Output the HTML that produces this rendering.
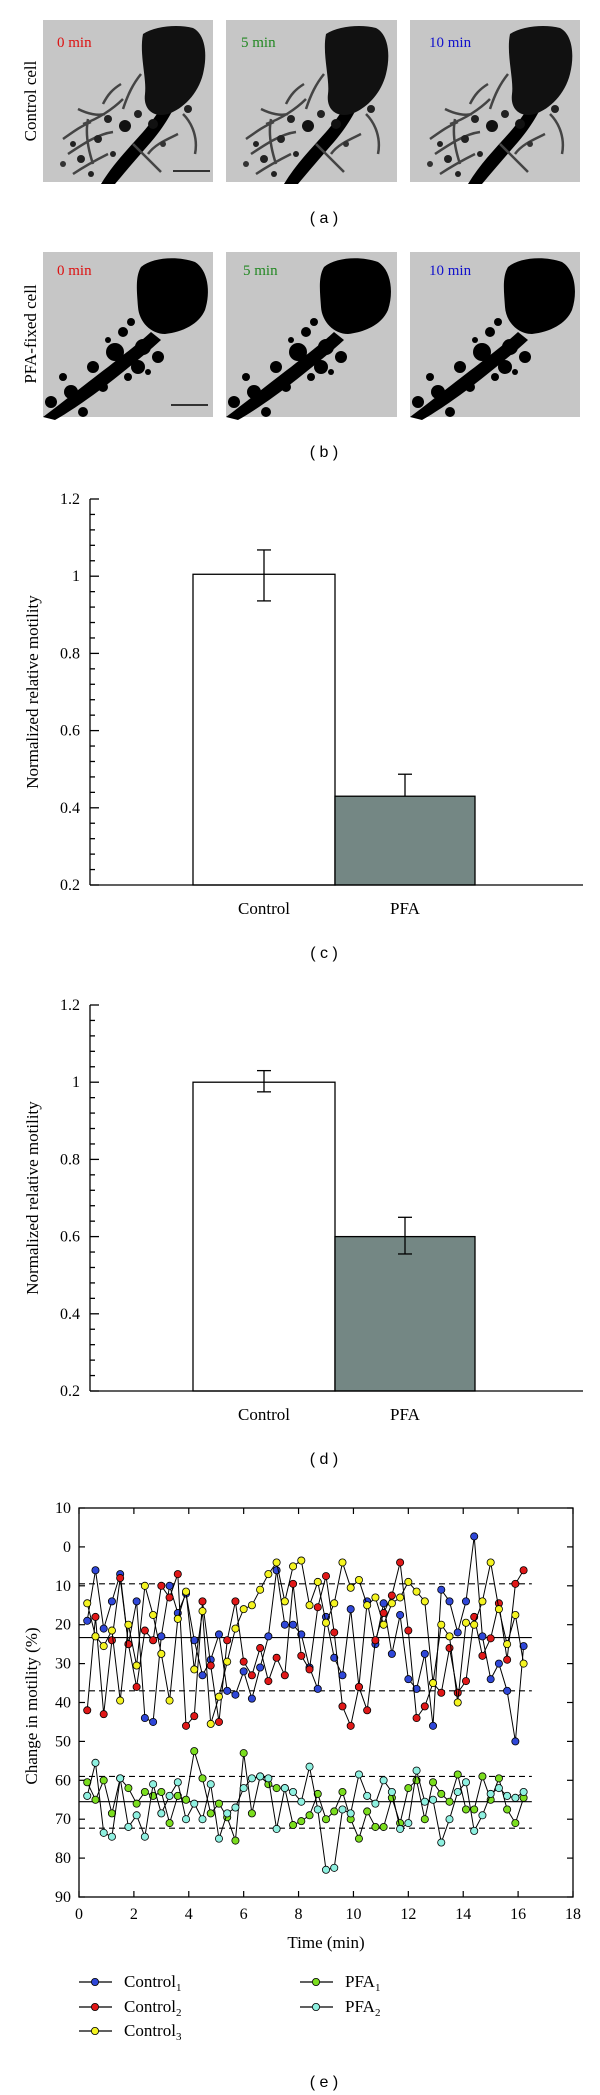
<!DOCTYPE html>
<html><head><meta charset="utf-8">
<style>
html,body{margin:0;padding:0;background:#fff;}
svg{display:block;}
.serif{font-family:"Liberation Serif",serif;}
.sans{font-family:"Liberation Sans",sans-serif;}
</style></head>
<body>
<svg id="fig" width="600" height="2095" viewBox="0 0 600 2095" xmlns="http://www.w3.org/2000/svg">
<defs>
<g id="ctrlcell">
  <path d="M58,170 C70,150 85,135 100,118 C112,104 120,92 126,78 L136,82 C130,98 120,114 108,128 C94,144 82,158 72,170 Z" fill="#000"/>
  <path d="M100,20 C112,12 135,10 150,14 C162,20 165,40 160,60 C155,80 140,95 125,100 C110,104 100,95 102,80 C104,65 96,40 100,20 Z" fill="#111"/>
  <path d="M40,110 C55,105 70,95 80,85 M25,140 C40,130 55,120 70,118 M50,150 C45,135 42,120 45,105 M90,130 C100,140 110,150 118,158 M80,95 C85,80 90,70 98,60 M140,100 C150,110 155,125 152,140 M20,125 C30,118 38,112 48,108 M30,160 C45,150 55,145 65,140 M60,90 C65,80 70,75 78,70 M105,140 C112,130 125,125 135,120 M35,95 C45,100 55,102 62,100" stroke="#444" stroke-width="2.5" fill="none"/>
  <circle cx="82" cy="112" r="6" fill="#111"/><circle cx="55" cy="125" r="4" fill="#222"/><circle cx="38" cy="145" r="4" fill="#222"/><circle cx="110" cy="110" r="5" fill="#111"/><circle cx="145" cy="95" r="4" fill="#222"/>
  <circle cx="30" cy="130" r="3" fill="#222"/><circle cx="65" cy="105" r="4" fill="#222"/><circle cx="48" cy="160" r="3" fill="#222"/><circle cx="95" cy="100" r="4" fill="#222"/><circle cx="120" cy="130" r="3" fill="#333"/><circle cx="70" cy="140" r="3" fill="#222"/><circle cx="20" cy="150" r="3" fill="#333"/>
</g>
<g id="pfacell">
  <path d="M0,165 C20,150 45,130 65,115 C80,103 95,92 108,80 L118,88 C105,100 90,112 75,124 C55,140 30,158 12,168 Z" fill="#000"/>
  <path d="M98,15 C110,5 135,4 152,10 C165,18 168,40 162,58 C156,72 140,80 122,82 C108,82 96,70 95,55 C94,40 92,25 98,15 Z" fill="#000"/>
  <circle cx="72" cy="100" r="9" fill="#000"/><circle cx="100" cy="95" r="8" fill="#000"/><circle cx="95" cy="115" r="7" fill="#000"/><circle cx="50" cy="115" r="6" fill="#000"/><circle cx="28" cy="140" r="7" fill="#000"/><circle cx="8" cy="150" r="6" fill="#000"/><circle cx="115" cy="105" r="6" fill="#000"/><circle cx="80" cy="80" r="5" fill="#000"/><circle cx="60" cy="135" r="5" fill="#000"/><circle cx="40" cy="160" r="5" fill="#000"/><circle cx="20" cy="125" r="4" fill="#000"/><circle cx="88" cy="70" r="4" fill="#000"/>
  <circle cx="65" cy="88" r="3" fill="#000"/><circle cx="85" cy="125" r="4" fill="#000"/><circle cx="45" cy="138" r="3" fill="#000"/><circle cx="105" cy="120" r="3" fill="#000"/>
</g>
</defs>

<g>
  <text class="serif" x="36" y="101" font-size="17" text-anchor="middle" transform="rotate(-90 36 101)">Control cell</text>
  <g><rect x="43" y="20" width="170" height="162" fill="#c6c6c6"/><use href="#ctrlcell" x="43" y="14"/><line x1="173" y1="171" x2="210" y2="171" stroke="#000" stroke-width="1.5"/><text class="serif" x="57" y="47" font-size="15" fill="#dd1111">0 min</text></g>
  <g><rect x="226" y="20" width="171" height="162" fill="#c6c6c6"/><use href="#ctrlcell" x="226" y="14"/><text class="serif" x="241" y="47" font-size="15" fill="#228822">5 min</text></g>
  <g><rect x="410" y="20" width="170" height="162" fill="#c6c6c6"/><use href="#ctrlcell" x="410" y="14"/><text class="serif" x="429" y="47" font-size="15" fill="#1111cc">10 min</text></g>
  <text class="sans" x="324" y="223" font-size="16" text-anchor="middle">( a )</text>
</g>

<g>
  <text class="serif" x="36" y="334" font-size="17" text-anchor="middle" transform="rotate(-90 36 334)">PFA-fixed cell</text>
  <g><rect x="43" y="252" width="170" height="165" fill="#c6c6c6"/><use href="#pfacell" x="43" y="252"/><line x1="171" y1="405" x2="208" y2="405" stroke="#000" stroke-width="1.5"/><text class="serif" x="57" y="275" font-size="15" fill="#dd1111">0 min</text></g>
  <g><rect x="226" y="252" width="171" height="165" fill="#c6c6c6"/><use href="#pfacell" x="226" y="252"/><text class="serif" x="243" y="275" font-size="15" fill="#228822">5 min</text></g>
  <g><rect x="410" y="252" width="170" height="165" fill="#c6c6c6"/><use href="#pfacell" x="410" y="252"/><text class="serif" x="429" y="275" font-size="15" fill="#1111cc">10 min</text></g>
  <text class="sans" x="324" y="457" font-size="16" text-anchor="middle">( b )</text>
</g>

<g id="chartC"></g>
<g id="chartD"></g>
<g id="chartE"></g>
</svg>

<script>
const barCategories = ["Control", "PFA"];
const barValuesC = [1.005, 0.43];
const barErrHiC = [1.068, 0.487];
const barErrLoC = [0.936, null];
const barValuesD = [1.0, 0.60];
const barErrHiD = [1.03, 0.65];
const barErrLoD = [0.975, 0.555];
const barTickLabels = ["0.2", "0.4", "0.6", "0.8", "1", "1.2"];
const barTickValues = [0.2, 0.4, 0.6, 0.8, 1.0, 1.2];

const times = [0.3,0.6,0.9,1.2,1.5,1.8,2.1,2.4,2.7,3.0,3.3,3.6,3.9,4.2,4.5,4.8,5.1,5.4,5.7,6.0,6.3,6.6,6.9,7.2,7.5,7.8,8.1,8.4,8.7,9.0,9.3,9.6,9.9,10.2,10.5,10.8,11.1,11.4,11.7,12.0,12.3,12.6,12.9,13.2,13.5,13.8,14.1,14.4,14.7,15.0,15.3,15.6,15.9,16.2];
const control1 = [19,6,21,14,7,25,14,44,45,23,10,17,12,24,33,29,22.5,37,38,32,39,31,23,6,20,20,22.5,31,36.5,18,28.5,33,16,36,14,25,14.5,27.5,17.5,34,36.5,27.5,46,11,14,22,14,-2.7,23,34,30,37,50,25.5];
const control2 = [42,18,43,24,8,25,36,21.5,24,10,13,7,46,43.5,14,30.5,45,24,14,29.5,33,26,34.5,28.5,33,9.5,28,31.5,15.5,7.5,22,41,46,36,42,24,17,12.5,4,21.5,44,41,35,37.5,26,37.5,34.5,18,28,23.5,14.5,29,9.5,6];
const control3 = [14.5,23,25.5,21.5,39.5,20,30.5,10,17.5,27.5,39.5,18.5,11.5,31.5,16.5,45.5,38.5,29.5,21,16,15,11,7,4,14,5,3.5,15,9,19.5,14.5,4,10.5,8.5,15,13,20,14.5,13,9,11.5,14,35,20,23,40,19.5,20,14,4,16,25,17.5,30];
const pfa1 = [60.5,65,60,68.5,59.5,62,66,63,64,63,71,64,65,52.5,59.5,68.5,66,69.5,75.5,53,68.5,59,61,62,62,71.5,70.5,69,63.5,70,68,63,70,75,68,72,72,64.5,71,62,60,70,60.5,63.5,65.5,58.5,67.5,67.5,59,65,59.5,67.5,71,64.5];
const pfa2 = [64,55.5,73.5,74.5,59.5,72,69,74.5,61,68.5,64,60.5,70,66,70,61,75,68.5,67,62,59.5,59,59.5,72.5,62,63,65.5,56.5,67.5,83,82.5,67.5,68.5,58.5,64,66,60,63,72.5,71,57.5,65.5,65,76,70,63,60.5,73,69,63.5,62,64,64.5,63];
const controlMean = 23.3, controlSdLo = 9.5, controlSdHi = 37;
const pfaMean = 65.5, pfaSdLo = 59, pfaSdHi = 72.3;
const yTickValuesE = [-10,0,10,20,30,40,50,60,70,80,90];
const yTickLabelsE = ["10","0","10","20","30","40","50","60","70","80","90"];
const xTickValuesE = [0,2,4,6,8,10,12,14,16,18];
const seriesNames = ["Control1","Control2","Control3","PFA1","PFA2"];

const NS = "http://www.w3.org/2000/svg";
function mk(tag, attrs, parent, text) {
  const el = document.createElementNS(NS, tag);
  for (const k in attrs) el.setAttribute(k, attrs[k]);
  if (text !== undefined) el.textContent = text;
  parent.appendChild(el);
  return el;
}

function barChart(gid, top, vals, hi, lo, caption) {
  const g = document.getElementById(gid);
  const ax = 90, bottom = top + 386, right = 583;
  const y = v => bottom - (v - 0.2) / 1.0 * 386;
  const bx = [193, 335], bw = [142, 140], fills = ["#fff", "#748784"];
  vals.forEach((v, i) => {
    const r = mk("rect", {x: bx[i], y: y(v), width: bw[i], height: bottom - y(v), fill: fills[i], stroke: "#000", "stroke-width": 1.3}, g);
    
    
    const cx = bx[i] + bw[i] / 2;
    const e = mk("g", {stroke: "#000", "stroke-width": 1.3}, g);
    
    
    const loV = lo[i] === null ? v : lo[i];
    mk("line", {x1: cx, x2: cx, y1: y(hi[i]), y2: y(loV)}, e);
    mk("line", {x1: cx - 7, x2: cx + 7, y1: y(hi[i]), y2: y(hi[i])}, e);
    if (lo[i] !== null) mk("line", {x1: cx - 7, x2: cx + 7, y1: y(lo[i]), y2: y(lo[i])}, e);
    const t = mk("text", {x: cx, y: bottom + 29, "font-size": 17, "text-anchor": "middle", class: "serif"}, g, barCategories[i]);
    
    
  });
  const axes = mk("g", {stroke: "#000", "stroke-width": 1.3}, g);
  
  
  mk("line", {x1: ax, x2: ax, y1: top, y2: bottom}, axes);
  mk("line", {x1: ax, x2: right, y1: bottom, y2: bottom}, axes);
  for (let k = 0; k <= 25; k++) {
    const v = 0.2 + k * 0.04;
    const major = k % 5 === 0;
    mk("line", {x1: ax, x2: ax + (major ? 9 : 5), y1: y(v), y2: y(v)}, axes);
  }
  barTickValues.forEach((v, i) => {
    const t = mk("text", {x: 80, y: y(v) + 5, "font-size": 16, "text-anchor": "end", class: "serif"}, g, barTickLabels[i]);
    
    
  });
  const yl = mk("text", {x: 38, y: (top + bottom) / 2, "font-size": 17, "text-anchor": "middle", class: "serif", transform: `rotate(-90 38 ${(top + bottom) / 2})`}, g, "Normalized relative motility");
  
  
  const c = mk("text", {x: 324, y: bottom + 73, "font-size": 16, "text-anchor": "middle", class: "sans"}, g, caption);
  
  
}
barChart("chartC", 499, barValuesC, barErrHiC, barErrLoC, "( c )");
barChart("chartD", 1005, barValuesD, barErrHiD, barErrLoD, "( d )");

(function () {
  const g = document.getElementById("chartE");
  const L = 79, R = 573, T = 1508, B = 1897;
  const x = t => L + t / 18 * (R - L);
  const y = v => T + (v + 10) / 100 * (B - T);
  const frame = mk("rect", {x: L, y: T, width: R - L, height: B - T, fill: "none", stroke: "#000", "stroke-width": 1.3}, g);
  
  
  const tk = mk("g", {stroke: "#000", "stroke-width": 1.2}, g);
  
  
  yTickValuesE.forEach((v, i) => {
    mk("line", {x1: L, x2: L + 6, y1: y(v), y2: y(v)}, tk);
    mk("line", {x1: R, x2: R - 6, y1: y(v), y2: y(v)}, tk);
    const t = mk("text", {x: 71, y: y(v) + 5, "font-size": 16, "text-anchor": "end", class: "serif"}, g, yTickLabelsE[i]);
    
    
  });
  xTickValuesE.forEach(v => {
    mk("line", {x1: x(v), x2: x(v), y1: T, y2: T + 6}, tk);
    mk("line", {x1: x(v), x2: x(v), y1: B, y2: B - 6}, tk);
    const t = mk("text", {x: x(v), y: B + 22, "font-size": 16, "text-anchor": "middle", class: "serif"}, g, String(v));
    
    
  });
  const xt = mk("text", {x: 326, y: 1948, "font-size": 17, "text-anchor": "middle", class: "serif"}, g, "Time (min)");
  
  
  const yt = mk("text", {x: 37, y: 1706, "font-size": 17, "text-anchor": "middle", class: "serif", transform: "rotate(-90 37 1706)"}, g, "Change in motility (%)");
  
  

  const refs = [[controlMean, false], [controlSdLo, true], [controlSdHi, true], [pfaMean, false], [pfaSdLo, true], [pfaSdHi, true]];
  refs.forEach(([v, dashed]) => {
    const l = mk("line", {x1: L, x2: x(16.5), y1: y(v), y2: y(v), stroke: "#000", "stroke-width": 1.1, "stroke-dasharray": dashed ? "6,4" : "none"}, g);
    
    
  });

  const series = [control1, control2, control3, pfa1, pfa2];
  const colors = ["#2f47d8", "#e01818", "#f4f420", "#7add1e", "#8ef0e0"];
  series.forEach((s, si) => {
    const sg = mk("g", {}, g);
    
    
    const pts = s.map((v, i) => x(times[i]).toFixed(1) + "," + y(v).toFixed(1)).join(" ");
    mk("polyline", {points: pts, fill: "none", stroke: "#000", "stroke-width": 1}, sg);
    s.forEach((v, i) => {
      const c = mk("circle", {cx: x(times[i]), cy: y(v), r: 3.6, fill: colors[si], stroke: "#000", "stroke-width": 0.8}, sg);
      
      
    });
  });

  const lg = mk("g", {}, g);
  
  
  const legPos = [[79, 1982], [79, 2007], [79, 2031], [300, 1982], [300, 2007]];
  const legBase = ["Control", "Control", "Control", "PFA", "PFA"];
  const legSub = ["1", "2", "3", "1", "2"];
  legPos.forEach(([lx, ly], i) => {
    const e = mk("g", {}, lg);
    
    
    mk("line", {x1: lx, x2: lx + 33, y1: ly, y2: ly, stroke: "#000", "stroke-width": 1.3}, e);
    mk("circle", {cx: lx + 16, cy: ly, r: 3.6, fill: colors[i], stroke: "#000", "stroke-width": 0.8}, e);
    const t = mk("text", {x: lx + 45, y: ly + 5, "font-size": 17, class: "serif"}, e, legBase[i]);
    mk("tspan", {"font-size": 11, dy: 4}, t, legSub[i]);
  });
  const cap = mk("text", {x: 324, y: 2087, "font-size": 16, "text-anchor": "middle", class: "sans"}, g, "( e )");
  
  
})();
</script>
</body></html>
